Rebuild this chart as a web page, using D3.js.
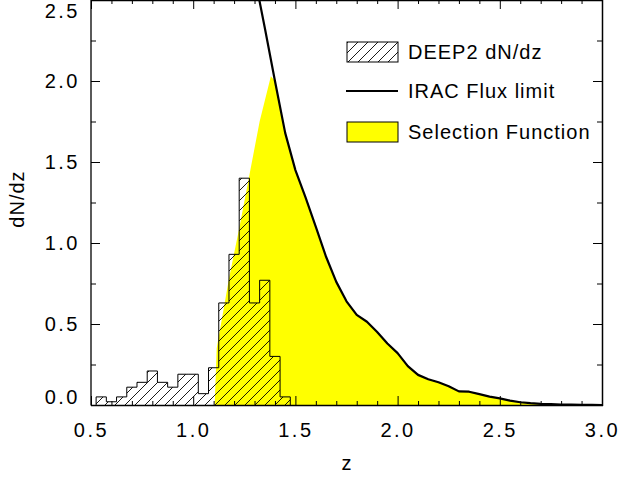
<!DOCTYPE html>
<html><head><meta charset="utf-8">
<script src="https://cdn.jsdelivr.net/npm/d3@7"></script>
<style>
body{margin:0;background:#fff}
svg{display:block}
text{font-family:"Liberation Sans",Arial,Helvetica,sans-serif;fill:#000}
</style>
</head><body>
<svg id="chart" width="619" height="478"></svg>
<script>
// ---- data ----
const histZ   = [0.55,0.60,0.65,0.70,0.75,0.80,0.85,0.90,0.95,1.00,1.05,1.10,1.15,1.20,1.25,1.30,1.35,1.40,1.45];
const histVal = [0.05,0.02,0.05,0.11,0.14,0.21,0.14,0.11,0.19,0.19,0.07,0.23,0.63,0.93,1.40,0.63,0.77,0.30,0.05];

const fluxZ   = [1.30,1.35,1.40,1.45,1.50,1.55,1.60,1.65,1.70,1.75,1.80,1.85,1.90,1.95,2.00,2.05,2.10,2.15,2.20,2.25,2.30,2.35,2.40,2.45,2.50,2.55,2.60,2.65,2.70,2.75,2.80,2.85,2.90,2.95,3.00];
const fluxVal = [2.65,2.33,2.00,1.68,1.45,1.28,1.10,0.915,0.76,0.64,0.556,0.514,0.45,0.38,0.32,0.24,0.186,0.159,0.14,0.116,0.084,0.082,0.067,0.052,0.041,0.027,0.017,0.011,0.007,0.005,0.003,0.002,0.001,0.0005,0.0];

const selZ    = [1.105,1.115,1.15,1.175,1.225,1.275,1.325,1.38,1.40,1.45,1.50,1.55,1.60,1.65,1.70,1.75,1.80,1.85,1.90,1.95,2.00,2.05,2.10,2.15,2.20,2.25,2.30,2.35,2.40,2.45,2.50,2.55,2.60,2.65,2.70,2.75,2.80,2.85,2.90,2.95,3.00];
const selVal  = [0.0,0.35,0.60,0.78,1.09,1.42,1.75,2.03,2.00,1.68,1.45,1.28,1.10,0.915,0.76,0.64,0.556,0.514,0.45,0.38,0.32,0.24,0.186,0.159,0.14,0.116,0.084,0.082,0.067,0.052,0.041,0.027,0.017,0.011,0.007,0.005,0.003,0.002,0.001,0.0005,0.0];

const xTicks = [0.5,1.0,1.5,2.0,2.5,3.0];
const xTickLabels = ["0.5","1.0","1.5","2.0","2.5","3.0"];
const yTicks = [0.0,0.5,1.0,1.5,2.0,2.5];
const yTickLabels = ["0.0","0.5","1.0","1.5","2.0","2.5"];
const legendLabels = ["DEEP2 dN/dz","IRAC Flux limit","Selection Function"];
const xTitle = "z", yTitle = "dN/dz";

// ---- layout ----
const L = 91, R = 602, T = 0, B = 405;
const x = d3.scaleLinear().domain([0.5,3.0]).range([L,R]);
const y = d3.scaleLinear().domain([0,2.5]).range([B,T]);
const svg = d3.select("#chart");

const defs = svg.append("defs");
const pat = defs.append("pattern").attr("id","hatch").attr("patternUnits","userSpaceOnUse")
  .attr("width",10).attr("height",10);
pat.append("path").attr("d","M-1,1 l2,-2 M0,10 l10,-10 M9,11 l2,-2")
  .attr("stroke","#000").attr("stroke-width",0.9).attr("fill","none");
defs.append("clipPath").attr("id","plotclip").append("rect")
  .attr("x",L).attr("y",T).attr("width",R-L).attr("height",B-T);

const plot = svg.append("g").attr("clip-path","url(#plotclip)");

// selection function (yellow)
const selData = selZ.map((z,i)=>[z,selVal[i]]);
plot.append("path").datum(selData)
  .attr("d", d3.area().x(d=>x(d[0])).y0(y(0)).y1(d=>y(d[1])))
  .attr("fill","#ffff00");

// histogram (hatched, stepped)
const bw = histZ[1]-histZ[0];
const steps = [[histZ[0]-bw/2,0]];
histZ.forEach((z,i)=>{ steps.push([z-bw/2,histVal[i]]); steps.push([z+bw/2,histVal[i]]); });
steps.push([histZ[histZ.length-1]+bw/2,0]);
const stepLine = d3.line().x(d=>x(d[0])).y(d=>y(d[1]));
plot.append("path").datum(steps).attr("d",stepLine)
  .attr("fill","url(#hatch)").attr("stroke","#000").attr("stroke-width",1);

// IRAC flux limit
const fluxData = fluxZ.map((z,i)=>[z,fluxVal[i]]);
plot.append("path").datum(fluxData).attr("d",d3.line().x(d=>x(d[0])).y(d=>y(d[1])))
  .attr("fill","none").attr("stroke","#000").attr("stroke-width",2.2).attr("stroke-linejoin","round");

// ---- axes / frame ----
const xMinor = d3.range(5,31).map(v=>v/10).filter(v=>!xTicks.some(t=>Math.abs(t-v)<1e-6));
const yMinor = [0.25,0.75,1.25,1.75,2.25];
function noDomain(g){ g.select(".domain").remove(); g.selectAll("line").attr("stroke","#000"); }

svg.append("g").attr("transform",`translate(0,${B})`)
  .call(d3.axisBottom(x).tickValues(xTicks).tickSize(-9).tickPadding(18).tickFormat((d,i)=>xTickLabels[i]))
  .call(noDomain).selectAll("text").attr("font-size",20).attr("letter-spacing",2.5).attr("font-family",null);
svg.append("g").attr("transform",`translate(0,${B})`)
  .call(d3.axisBottom(x).tickValues(xMinor).tickSize(-4).tickFormat("")).call(noDomain);
svg.append("g").attr("transform",`translate(0,${T})`)
  .call(d3.axisTop(x).tickValues(xTicks).tickSize(-9).tickFormat("")).call(noDomain);
svg.append("g").attr("transform",`translate(0,${T})`)
  .call(d3.axisTop(x).tickValues(xMinor).tickSize(-4).tickFormat("")).call(noDomain);

const yl = svg.append("g").attr("transform",`translate(${L},0)`)
  .call(d3.axisLeft(y).tickValues(yTicks).tickSize(-9).tickPadding(11).tickFormat((d,i)=>yTickLabels[i]))
  .call(noDomain);
yl.selectAll("text").attr("font-size",20).attr("letter-spacing",2.5).attr("font-family",null)
  .attr("dy",(d)=> d===0 ? "-0.08em" : (d===2.5 ? "0.85em" : "0.32em"));
svg.append("g").attr("transform",`translate(${L},0)`)
  .call(d3.axisLeft(y).tickValues(yMinor).tickSize(-5).tickFormat("")).call(noDomain);
svg.append("g").attr("transform",`translate(${R},0)`)
  .call(d3.axisRight(y).tickValues(yTicks).tickSize(-9).tickFormat("")).call(noDomain);
svg.append("g").attr("transform",`translate(${R},0)`)
  .call(d3.axisRight(y).tickValues(yMinor).tickSize(-5).tickFormat("")).call(noDomain);

const frame = svg.append("g").attr("stroke","#000").attr("fill","none");
frame.append("line").attr("x1",L).attr("x2",L).attr("y1",T).attr("y2",B+0.5).attr("stroke-width",1.3);
frame.append("line").attr("x1",L).attr("x2",R+1).attr("y1",T+0.5).attr("y2",T+0.5).attr("stroke-width",1.3);
frame.append("line").attr("x1",R+0.5).attr("x2",R+0.5).attr("y1",T).attr("y2",B+1).attr("stroke-width",1.5);
frame.append("line").attr("x1",L).attr("x2",R+1).attr("y1",B+0.5).attr("y2",B+0.5).attr("stroke-width",1.5);

// titles
svg.append("text").attr("x",(L+R)/2).attr("y",470).attr("text-anchor","middle")
  .attr("font-size",20).text(xTitle);
svg.append("text").attr("transform","translate(24,199) rotate(-90)").attr("text-anchor","middle")
  .attr("font-size",20).attr("letter-spacing",1).text(yTitle);

// ---- legend ----
const lg = svg.append("g");
const lx0 = 347, lx1 = 398, rows = [52,91,132];
lg.append("rect").attr("x",lx0).attr("y",rows[0]-10).attr("width",lx1-lx0).attr("height",20)
  .attr("fill","url(#hatch)").attr("stroke","#000").attr("stroke-width",1);
lg.append("line").attr("x1",lx0-1).attr("x2",lx1).attr("y1",rows[1]).attr("y2",rows[1])
  .attr("stroke","#000").attr("stroke-width",2.2);
lg.append("rect").attr("x",lx0).attr("y",rows[2]-10).attr("width",lx1-lx0).attr("height",20)
  .attr("fill","#ffff00").attr("stroke","#000").attr("stroke-width",1);
legendLabels.forEach((t,i)=>{
  lg.append("text").attr("x",408).attr("y",rows[i]+7).attr("font-size",20)
    .attr("letter-spacing",1).text(t);
});
</script>
</body></html>
